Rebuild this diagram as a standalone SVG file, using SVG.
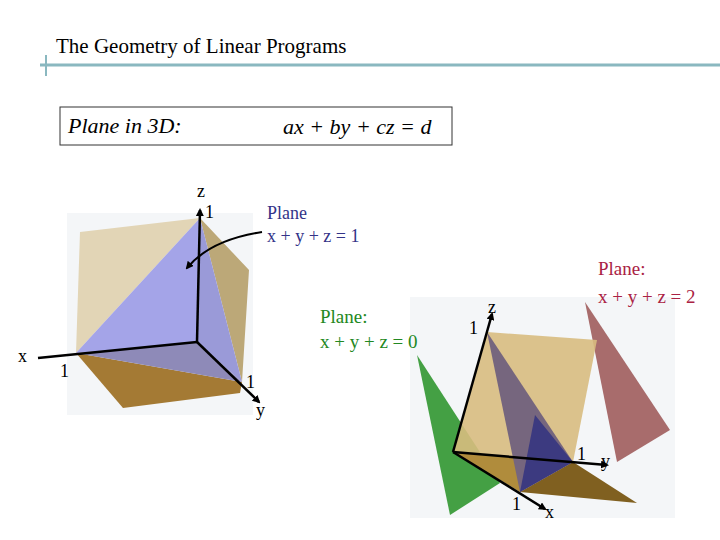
<svg xmlns="http://www.w3.org/2000/svg" width="720" height="540" viewBox="0 0 720 540">
<style>
text{font-family:"Liberation Serif",serif}
.ax{stroke:#000;stroke-width:2.5;fill:none}
.lb{font-size:18px}
.pl{font-size:19px}
</style>
<defs><marker id="ar" markerWidth="8" markerHeight="8" refX="6" refY="4" orient="auto" markerUnits="userSpaceOnUse"><path d="M0,0 L8,4 L0,8 z" fill="#000"/></marker></defs>
<rect width="720" height="540" fill="#fff"/>
<line x1="40" y1="65" x2="720" y2="65" stroke="#8ab8c0" stroke-width="3"/>
<line x1="46" y1="55" x2="46" y2="76" stroke="#8ab8c0" stroke-width="2"/>
<text x="56" y="53" font-size="21">The Geometry of Linear Programs</text>
<g id="eqbox"><rect x="60" y="107" width="392" height="38" fill="#fff" stroke="#333" stroke-width="1"/>
<text x="68" y="133" font-size="22" font-style="italic">Plane in 3D:</text>
<text x="283" y="134" font-size="22" font-style="italic">ax + by + cz = d</text></g>
<g id="fig1">
<rect x="67" y="213" width="186" height="202" fill="#f4f6f8"/>
<polygon points="80,232 200,218 76,353" fill="#e2d5b6"/>
<polygon points="200,218 249,270 242,382" fill="#bca878"/>
<polygon points="76,353 242,382 240,393 123,408" fill="#a47a34"/>
<polygon points="200,218 76,353 197,342" fill="#a4a4e8"/>
<polygon points="200,218 197,342 242,382" fill="#9a9ad8"/>
<polygon points="76,353 197,342 242,382" fill="#8e8ab8"/>
<line class="ax" x1="197" y1="342" x2="200" y2="210" marker-end="url(#ar)"/>
<line class="ax" x1="197" y1="342" x2="38" y2="358"/>
<line class="ax" x1="197" y1="342" x2="259" y2="402" marker-end="url(#ar)"/>
<text x="197" y="197" class="lb">z</text><text x="205" y="218" class="lb">1</text>
<text x="18" y="362" class="lb">x</text><text x="60" y="377" class="lb">1</text>
<text x="246" y="388" class="lb">1</text><text x="256" y="416" class="lb">y</text>
<path d="M262,232 Q210,240 187,268" fill="none" stroke="#000" stroke-width="2" marker-end="url(#ar)"/>
<text x="267" y="219" class="lb" fill="#333388">Plane</text>
<text x="267" y="242" class="lb" fill="#333388">x + y + z = 1</text>
</g>
<g id="fig2">
<rect x="410" y="297" width="265" height="221" fill="#f4f6f8"/>
<polygon points="417,355 450,515 500,483" fill="#44a044"/>
<polygon points="585,302 670,430 617,462" fill="#a86c6c"/>
<polygon points="487,332 597,340 573,462 453,452" fill="#d8bc80" opacity="0.9"/>
<polygon points="453,452 520,492 573,462" fill="#b08c3c"/>
<polygon points="520,492 573,462 637,503" fill="#806020"/>
<polygon points="487,332 573,462 520,492" fill="#76667e"/>
<polygon points="535,415 573,462 520,492" fill="#3c3a80"/>
<line class="ax" x1="453" y1="452" x2="492" y2="314" marker-end="url(#ar)"/>
<line class="ax" x1="453" y1="452" x2="607" y2="465" marker-end="url(#ar)"/>
<line class="ax" x1="453" y1="452" x2="545" y2="509" marker-end="url(#ar)"/>
<text x="488" y="313" class="lb">z</text><text x="469" y="334" class="lb">1</text>
<text x="577" y="460" class="lb">1</text><text x="601" y="467" class="lb">y</text>
<text x="512" y="510" class="lb">1</text><text x="545" y="518" class="lb">x</text>
<text x="320" y="323" class="pl" fill="#228822">Plane:</text>
<text x="320" y="348" class="pl" fill="#228822">x + y + z = 0</text>
<text x="598" y="275" class="pl" fill="#aa2244">Plane:</text>
<text x="598" y="303" class="pl" fill="#aa2244">x + y + z = 2</text>
</g>
</svg>
